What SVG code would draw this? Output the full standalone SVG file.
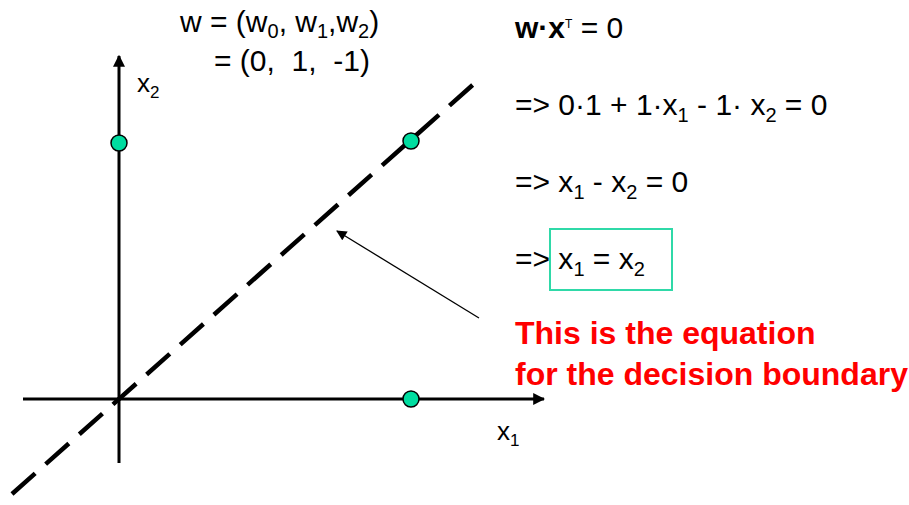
<svg xmlns="http://www.w3.org/2000/svg" width="909" height="505" viewBox="0 0 909 505">
<style>
.t{font-family:"Liberation Sans",Arial,sans-serif;font-size:30px;fill:#000;white-space:pre}
.s{font-size:20px}
.r{font-family:"Liberation Sans",Arial,sans-serif;font-size:32px;font-weight:bold;fill:#FF0000}
.pt{fill:#00DDA0;stroke:#000;stroke-width:1.5}
.ax{stroke:#000;stroke-width:3;fill:none}
</style>
<defs>
<marker id="ah" viewBox="0 0 10 10" refX="9" refY="5" markerWidth="4" markerHeight="4" orient="auto" markerUnits="strokeWidth">
<path d="M0,0 L10,5 L0,10 z" fill="#000"/>
</marker>
<marker id="ah2" viewBox="0 0 10 10" refX="9" refY="5" markerWidth="10" markerHeight="8" orient="auto" markerUnits="strokeWidth">
<path d="M0,0 L10,5 L0,10 z" fill="#000"/>
</marker>
</defs>
<g id="connectors">
<line class="ax" x1="119" y1="463" x2="119" y2="56" marker-end="url(#ah)"/>
<line class="ax" x1="23" y1="399" x2="544" y2="399" marker-end="url(#ah)"/>
<line x1="12" y1="494" x2="476" y2="82" stroke="#000" stroke-width="4.5" stroke-dasharray="31 14"/>
<line x1="479" y1="318" x2="337" y2="231" stroke="#000" stroke-width="1.3" marker-end="url(#ah2)"/>
</g>
<g id="p1"><circle class="pt" cx="119" cy="143" r="8"/></g>
<g id="p2"><circle class="pt" cx="411" cy="141" r="8"/></g>
<g id="p3"><circle class="pt" cx="411" cy="399" r="8"/></g>
<g id="labels">
<text class="t" x="137" y="92" style="font-size:26px">x<tspan style="font-size:17px" dy="6">2</tspan></text>
<text class="t" x="497" y="440" style="font-size:26px">x<tspan style="font-size:17px" dy="6">1</tspan></text>
<text class="t" x="180" y="32">w = (w<tspan class="s" dy="6">0</tspan><tspan dy="-6">, w</tspan><tspan class="s" dy="6">1</tspan><tspan dy="-6">,w</tspan><tspan class="s" dy="6">2</tspan><tspan dy="-6">)</tspan></text>
<text class="t" x="214" y="71">= (0,  1,  -1)</text>
</g>
<g id="equations">
<text class="t" x="515" y="38"><tspan font-weight="bold">w·x</tspan><tspan font-size="12" dy="-10">T</tspan><tspan dy="10"> = 0</tspan></text>
<text class="t" x="515" y="115">=&gt; 0·1 + 1·x<tspan class="s" dy="7">1</tspan><tspan dy="-7"> - 1· x</tspan><tspan class="s" dy="7">2</tspan><tspan dy="-7"> = 0</tspan></text>
<text class="t" x="515" y="192">=&gt; x<tspan class="s" dy="7">1</tspan><tspan dy="-7"> - x</tspan><tspan class="s" dy="7">2</tspan><tspan dy="-7"> = 0</tspan></text>
<text class="t" x="515" y="269">=&gt; x<tspan class="s" dy="7">1</tspan><tspan dy="-7"> = x</tspan><tspan class="s" dy="7">2</tspan></text>
</g>
<g id="box"><rect x="550" y="229" width="122" height="61" fill="none" stroke="#2FD9A8" stroke-width="2"/></g>
<g id="caption">
<text class="r" x="515" y="344">This is the equation</text>
<text class="r" x="515" y="385">for the decision boundary</text>
</g>
</svg>
